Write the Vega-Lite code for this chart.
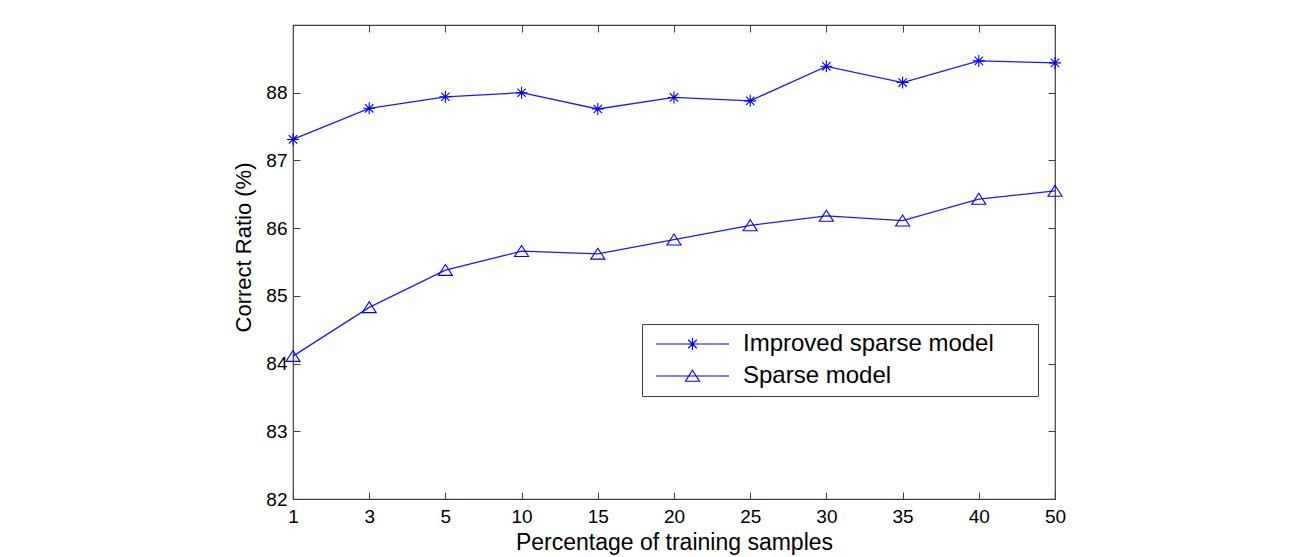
{
  "$schema": "https://vega.github.io/schema/vega-lite/v6.json",
  "width": 762,
  "height": 474,
  "autosize": {"type": "none"},
  "padding": {"left": 293, "top": 25, "right": 237, "bottom": 58},
  "background": "white",
  "config": {
    "view": {"stroke": "#404040", "strokeWidth": 1.2},
    "font": "Liberation Sans",
    "axis": {
      "grid": false,
      "domain": false,
      "tickColor": "#404040",
      "tickSize": -7,
      "tickWidth": 1,
      "labelColor": "#000000",
      "labelFontSize": 19,
      "labelFont": "Liberation Sans",
      "titleFont": "Liberation Sans",
      "titleFontWeight": "normal",
      "titleColor": "#000000"
    }
  },
  "data": {
    "values": [
      {"pct": 1, "series": "Improved sparse model", "value": 87.31},
      {"pct": 3, "series": "Improved sparse model", "value": 87.77},
      {"pct": 5, "series": "Improved sparse model", "value": 87.94},
      {"pct": 10, "series": "Improved sparse model", "value": 88.0},
      {"pct": 15, "series": "Improved sparse model", "value": 87.76},
      {"pct": 20, "series": "Improved sparse model", "value": 87.93},
      {"pct": 25, "series": "Improved sparse model", "value": 87.88},
      {"pct": 30, "series": "Improved sparse model", "value": 88.39},
      {"pct": 35, "series": "Improved sparse model", "value": 88.15},
      {"pct": 40, "series": "Improved sparse model", "value": 88.47},
      {"pct": 50, "series": "Improved sparse model", "value": 88.44},
      {"pct": 1, "series": "Sparse model", "value": 84.11},
      {"pct": 3, "series": "Sparse model", "value": 84.83},
      {"pct": 5, "series": "Sparse model", "value": 85.38},
      {"pct": 10, "series": "Sparse model", "value": 85.66},
      {"pct": 15, "series": "Sparse model", "value": 85.62},
      {"pct": 20, "series": "Sparse model", "value": 85.83},
      {"pct": 25, "series": "Sparse model", "value": 86.04},
      {"pct": 30, "series": "Sparse model", "value": 86.18},
      {"pct": 35, "series": "Sparse model", "value": 86.11},
      {"pct": 40, "series": "Sparse model", "value": 86.43},
      {"pct": 50, "series": "Sparse model", "value": 86.55}
    ]
  },
  "layer": [
    {
      "mark": {"type": "line", "color": "#1a1aff", "strokeWidth": 1.3},
      "encoding": {
        "x": {
          "field": "pct", "type": "ordinal",
          "scale": {"type": "point", "padding": 0},
          "axis": {
            "orient": "bottom", "labelAngle": 0, "labelPadding": 15,
            "title": "Percentage of training samples",
            "titleFontSize": 23, "titleY": 50, "titleBaseline": "alphabetic"
          }
        },
        "y": {
          "field": "value", "type": "quantitative",
          "scale": {"domain": [82, 89], "nice": false, "zero": false},
          "axis": {
            "orient": "left", "values": [82, 83, 84, 85, 86, 87, 88], "labelPadding": 13,
            "title": "Correct Ratio (%)", "titleFontSize": 22,
            "titleAngle": -90, "titleX": -43, "titleY": 222,
            "titleAlign": "center", "titleBaseline": "alphabetic"
          }
        },
        "detail": {"field": "series"}
      }
    },
    {
      "mark": {"type": "point", "filled": false, "stroke": "#0000ff", "strokeWidth": 1.1, "size": 144, "opacity": 1},
      "encoding": {
        "x": {
          "field": "pct", "type": "ordinal",
          "scale": {"type": "point", "padding": 0},
          "axis": {"orient": "top", "labels": false, "title": null}
        },
        "y": {
          "field": "value", "type": "quantitative",
          "scale": {"domain": [82, 89], "nice": false, "zero": false},
          "axis": {"orient": "right", "labels": false, "title": null, "values": [82, 83, 84, 85, 86, 87, 88]}
        },
        "shape": {
          "field": "series", "type": "nominal",
          "scale": {
            "domain": ["Improved sparse model", "Sparse model"],
            "range": [
              "M-1,0H1M0,-1V1M-0.7,-0.7L0.7,0.7M-0.7,0.7L0.7,-0.7",
              "M0,-0.95L1.17,0.88H-1.17Z"
            ]
          },
          "legend": null
        }
      }
    },
    {
      "mark": {"type": "point", "filled": false, "stroke": "#0000ff", "size": 144, "opacity": 0},
      "encoding": {
        "x": {"field": "pct", "type": "ordinal", "scale": {"type": "point", "padding": 0}, "axis": null},
        "y": {"field": "value", "type": "quantitative", "scale": {"domain": [82, 89], "nice": false, "zero": false}, "axis": null},
        "shape": {
          "field": "series", "type": "nominal",
          "scale": {
            "domain": ["Improved sparse model", "Sparse model"],
            "range": [
              "M-1,0H11.17M4.08,0H6.08M5.08,-1V1M4.37,-0.71L5.79,0.71M4.37,0.71L5.79,-0.71",
              "M-1,0H11.17M5.08,-0.95L6.25,0.88H3.91Z"
            ]
          },
          "legend": {
            "orient": "none", "legendX": 349, "legendY": 299,
            "title": null,
            "labelFontSize": 24, "labelFont": "Liberation Sans", "labelColor": "#000000",
            "labelLimit": 600, "labelOffset": 69,
            "labelExpr": "datum.label + '\u2800\u2800'",
            "strokeColor": "#404040", "fillColor": "white", "padding": 8,
            "symbolSize": 144, "symbolStrokeColor": "#0000ff", "symbolFillColor": "transparent",
            "symbolStrokeWidth": 1.1, "symbolOpacity": 1, "rowPadding": 8
          }
        }
      }
    }
  ],
  "resolve": {
    "scale": {"shape": "independent"},
    "axis": {"x": "independent", "y": "independent"}
  }
}
